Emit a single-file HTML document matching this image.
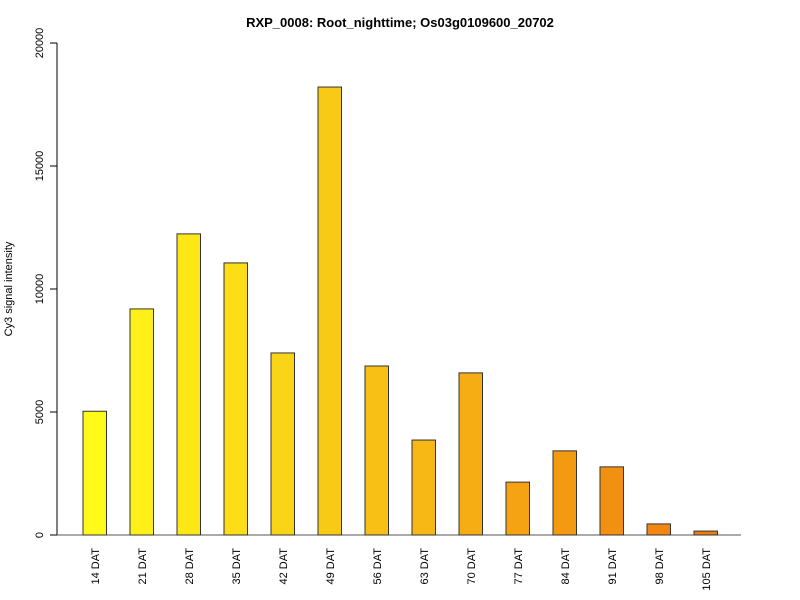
<!DOCTYPE html>
<html><head><meta charset="utf-8"><style>body{margin:0;background:#fff}svg{display:block}</style></head>
<body>
<svg id="chart" width="800" height="600" xmlns="http://www.w3.org/2000/svg" font-family="Liberation Sans, sans-serif">
<text x="400" y="27" text-anchor="middle" font-size="13" font-weight="bold">RXP_0008: Root_nighttime; Os03g0109600_20702</text>
<text transform="translate(12,289) rotate(-90)" text-anchor="middle" font-size="11">Cy3 signal intensity</text>
<g id="marks"></g>
</svg>
<script>
const categories=["14 DAT","21 DAT","28 DAT","35 DAT","42 DAT","49 DAT","56 DAT","63 DAT","70 DAT","77 DAT","84 DAT","91 DAT","98 DAT","105 DAT"];
const values=[5030,9190,12240,11060,7400,18210,6870,3860,6590,2150,3420,2770,450,160];
const yTicks=[0,5000,10000,15000,20000];
const yMax=20000;
const NS="http://www.w3.org/2000/svg";
const g=document.getElementById('marks');
const y0=535,y1=43,x0=83,step=47,bw=23.5;
function ys(v){return y0-(v/yMax)*(y0-y1);}
function xs(i){return x0+i*step;}
function mk(t,a){const e=document.createElementNS(NS,t);for(const k in a)e.setAttribute(k,a[k]);g.appendChild(e);return e;}
const ax=mk('line',{x1:57,y1:ys(0),x2:57,y2:ys(yMax),stroke:'#000'});


yTicks.forEach(t=>{
  const l=mk('line',{x1:50,x2:57,y1:ys(t),y2:ys(t),stroke:'#000'});
  
  
  const tx=mk('text',{transform:`translate(43,${ys(t)}) rotate(-90)`,'text-anchor':'middle','font-size':11});
  tx.textContent=t;
  
  
});
const bl=mk('line',{x1:57,x2:741,y1:y0,y2:y0,stroke:'#555'});


const n=categories.length;
values.forEach((v,i)=>{
  const f=i/(n-1);
  const r=Math.round(255-15*f),gg=Math.round(250-125*f),b=Math.round(25-10*f);
  const rc=mk('rect',{x:xs(i),y:ys(v),width:bw,height:ys(0)-ys(v),fill:`rgb(${r},${gg},${b})`,stroke:'#333','stroke-width':1});
  
  
  const tx=mk('text',{transform:`translate(${xs(i)+bw/2+4},548) rotate(-90)`,'text-anchor':'end','font-size':11});
  tx.textContent=categories[i];
  
  
});
</script>
</body></html>
